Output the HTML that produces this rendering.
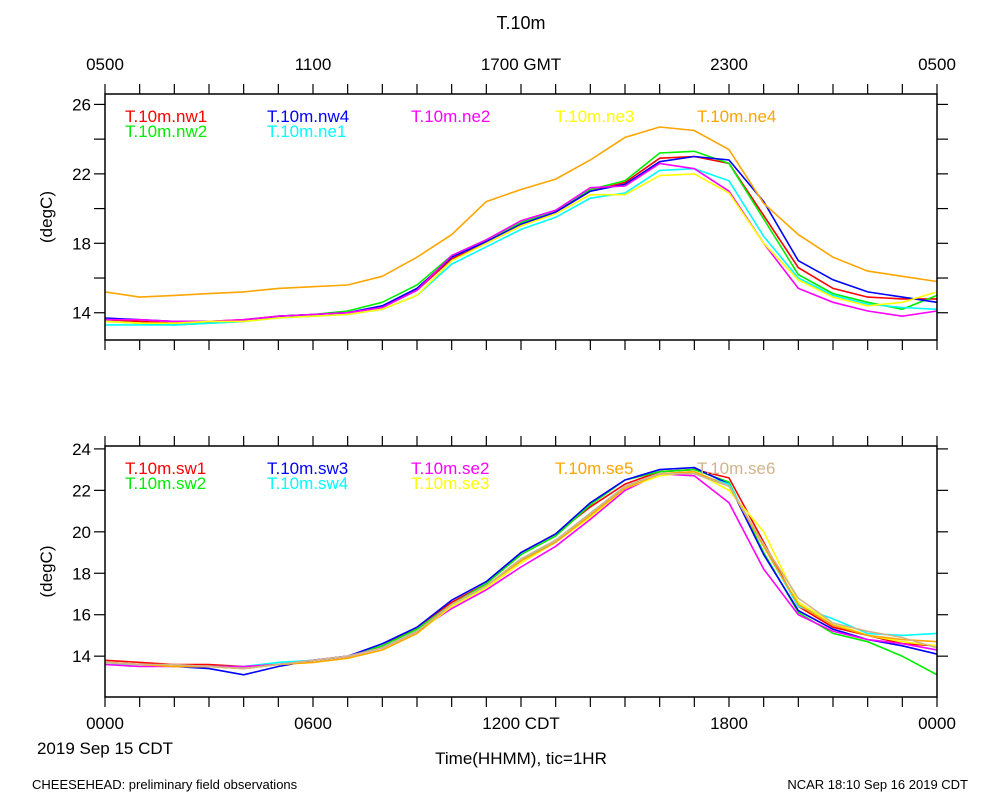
<!DOCTYPE html>
<html><head><meta charset="utf-8"><style>
body{margin:0;background:#fff;}
svg{display:block;font-family:"Liberation Sans",sans-serif;}
</style></head><body>
<svg id="c" width="1000" height="800" xmlns="http://www.w3.org/2000/svg"></svg>
<script>
const hours=[0,1,2,3,4,5,6,7,8,9,10,11,12,13,14,15,16,17,18,19,20,21,22,23,24];
const topNames=["T.10m.nw1","T.10m.nw2","T.10m.nw4","T.10m.ne1","T.10m.ne2","T.10m.ne3","T.10m.ne4"];
const topColors=["#ff0000","#00ee00","#0000ff","#00ffff","#ff00ff","#ffff00","#ffa500"];
const nw1=[13.6,13.5,13.4,13.5,13.6,13.8,13.9,14.0,14.3,15.3,17.1,18.0,19.0,19.8,21.0,21.5,22.9,23.0,22.6,19.6,16.6,15.4,14.9,14.8,14.8];
const nw2=[13.5,13.4,13.3,13.4,13.5,13.8,13.9,14.1,14.6,15.6,17.3,18.2,19.2,19.9,21.1,21.6,23.2,23.3,22.6,19.4,16.2,15.1,14.6,14.2,15.0];
const nw4=[13.7,13.6,13.5,13.5,13.5,13.8,13.9,14.0,14.4,15.4,17.2,18.1,19.1,19.8,21.0,21.4,22.7,23.0,22.8,20.4,17.0,15.9,15.2,14.9,14.6];
const ne1=[13.3,13.3,13.3,13.4,13.5,13.7,13.8,13.9,14.2,15.0,16.8,17.8,18.8,19.5,20.6,20.9,22.2,22.3,21.6,18.4,16.0,15.0,14.5,14.3,14.2];
const ne2=[13.6,13.6,13.5,13.5,13.6,13.8,13.9,14.0,14.3,15.3,17.3,18.2,19.3,19.9,21.2,21.3,22.6,22.3,21.0,18.0,15.4,14.6,14.1,13.8,14.1];
const ne3=[13.5,13.4,13.4,13.5,13.5,13.7,13.8,13.9,14.2,15.0,17.0,18.0,19.0,19.7,20.8,20.8,21.9,22.0,20.9,18.0,15.9,14.9,14.4,14.6,15.2];
const ne4=[15.2,14.9,15.0,15.1,15.2,15.4,15.5,15.6,16.1,17.2,18.5,20.4,21.1,21.7,22.8,24.1,24.7,24.5,23.4,20.3,18.5,17.2,16.4,16.1,15.8];
const topSeries=[nw1,nw2,nw4,ne1,ne2,ne3,ne4];
const botNames=["T.10m.sw1","T.10m.sw2","T.10m.sw3","T.10m.sw4","T.10m.se2","T.10m.se3","T.10m.se5","T.10m.se6"];
const botColors=["#ff0000","#00ee00","#0000ff","#00ffff","#ff00ff","#ffff00","#ffa500","#d2b48c"];
const sw1=[13.8,13.7,13.6,13.6,13.5,13.6,13.8,14.0,14.5,15.4,16.6,17.5,19.0,19.9,21.2,22.3,22.9,23.0,22.6,19.5,16.4,15.4,15.0,14.6,14.5];
const sw2=[13.7,13.6,13.5,13.5,13.4,13.6,13.8,14.0,14.5,15.3,16.5,17.5,18.9,19.8,21.3,22.5,22.9,23.0,22.4,19.0,16.1,15.1,14.7,14.0,13.1];
const sw3=[13.7,13.6,13.5,13.4,13.1,13.5,13.8,14.0,14.6,15.4,16.7,17.6,19.0,19.9,21.4,22.5,23.0,23.1,22.3,18.9,16.2,15.3,14.8,14.5,14.1];
const sw4=[13.6,13.6,13.5,13.5,13.5,13.7,13.8,14.0,14.4,15.2,16.4,17.4,18.6,19.6,20.9,22.2,22.8,22.8,22.3,19.3,16.4,15.8,15.1,15.0,15.1];
const se2=[13.6,13.5,13.5,13.5,13.5,13.6,13.8,14.0,14.4,15.2,16.3,17.2,18.3,19.3,20.6,22.0,22.8,22.7,21.4,18.2,16.0,15.2,14.8,14.6,14.3];
const se3=[13.7,13.6,13.5,13.5,13.4,13.6,13.7,13.9,14.3,15.1,16.4,17.3,18.5,19.5,20.7,22.1,22.7,22.9,22.0,20.0,16.6,15.6,15.0,14.7,14.5];
const se5=[13.7,13.6,13.5,13.5,13.4,13.6,13.7,13.9,14.3,15.1,16.5,17.4,18.6,19.5,20.8,22.1,22.8,22.9,22.2,19.3,16.5,15.5,15.0,14.8,14.7];
const se6=[13.7,13.6,13.6,13.5,13.4,13.6,13.8,14.0,14.4,15.2,16.5,17.4,18.7,19.6,20.9,22.2,22.8,22.8,22.2,19.4,16.8,15.6,15.2,14.9,14.4];
const botSeries=[sw1,sw2,sw3,sw4,se2,se3,se5,se6];
const topTicks=[14,18,22,26];
const botTicks=[14,16,18,20,22,24];
const topTimeLabels=["0500","1100","1700 GMT","2300","0500"];
const botTimeLabels=["0000","0600","1200 CDT","1800","0000"];
// legend slot (column,row) per series
const topLegendCol=[0,0,1,1,2,3,4];
const topLegendRow=[0,1,0,1,0,0,0];
const botLegendCol=[0,0,1,1,2,2,3,4];
const botLegendRow=[0,1,0,1,0,1,0,0];

const NS="http://www.w3.org/2000/svg";
const svg=document.getElementById('c');
function el(tag,attrs,parent,text){const e=document.createElementNS(NS,tag);for(const k in attrs)e.setAttribute(k,attrs[k]);if(text!==undefined)e.textContent=text;(parent||svg).appendChild(e);return e;}
const X0=105,X1=937;
const xs=h=>X0+(X1-X0)*h/24;
function panel(name,y0,y1,vmin,vmax,ticks,series,colors,names,lcol,lrow,topLbl,botLbl){
  const g=el('g',{},svg);
  
  
  const ys=v=>y1-(v-vmin)/(vmax-vmin)*(y1-y0);
  const defsId='clip-'+name;
  const cp=el('clipPath',{id:defsId},g);el('rect',{x:X0,y:y0,width:X1-X0,height:y1-y0},cp);
  series.forEach((s,i)=>{
    const d=s.map((v,j)=>(j?'L':'M')+xs(hours[j]).toFixed(1)+' '+ys(v).toFixed(1)).join(' ');
    const p=el('path',{d:d,fill:'none',stroke:colors[i],'stroke-width':1.6,'clip-path':'url(#'+defsId+')'},g);
    
    
  });
  el('rect',{x:X0,y:y0,width:X1-X0,height:y1-y0,fill:'none',stroke:'#000','stroke-width':1.5},g);
  for(let h=0;h<=24;h++){const x=xs(h);
    el('line',{x1:x,x2:x,y1:y1,y2:y1+10,stroke:'#000','stroke-width':1.2},g);
    el('line',{x1:x,x2:x,y1:y0,y2:y0-10,stroke:'#000','stroke-width':1.2},g);}
  for(let v=Math.ceil(vmin/2)*2;v<=vmax;v+=2){const y=ys(v);
    el('line',{x1:X0-11,x2:X0,y1:y,y2:y,stroke:'#000','stroke-width':1.2},g);
    el('line',{x1:X1,x2:X1+11,y1:y,y2:y,stroke:'#000','stroke-width':1.2},g);}
  ticks.forEach(v=>{const t=el('text',{x:X0-14,y:ys(v)+6,'text-anchor':'end','font-size':17},g,String(v));
    });
  const yl=el('text',{x:52,y:(y0+y1)/2,'text-anchor':'middle','font-size':17,transform:'rotate(-90 52 '+((y0+y1)/2)+')'},g,'(degC)');
  
  const lx=[125,267,411,555,697];
  names.forEach((n,i)=>{
    const t=el('text',{x:lx[lcol[i]],y:y0+28+lrow[i]*15,'font-size':17,fill:colors[i]},g,n);
    });
  [[topLbl,y0-24],[botLbl,y1+32]].forEach(([lbls,yy])=>{ if(!lbls)return;
    lbls.forEach((l,i)=>{const t=el('text',{x:xs(i*6),y:yy,'text-anchor':'middle','font-size':17},g,l);
      });});
}
panel('top-panel',94,340,12.43,26.6,topTicks,topSeries,topColors,topNames,topLegendCol,topLegendRow,topTimeLabels,null);
panel('bottom-panel',446,697,12.03,24.14,botTicks,botSeries,botColors,botNames,botLegendCol,botLegendRow,null,botTimeLabels);
function txt(name,attrs,s){const t=el('text',attrs,svg,s);}
txt('chart-title',{x:521,y:29,'text-anchor':'middle','font-size':18},'T.10m');
txt('date-label',{x:105,y:754,'text-anchor':'middle','font-size':17},'2019 Sep 15 CDT');
txt('x-axis-title',{x:521,y:764,'text-anchor':'middle','font-size':17},'Time(HHMM), tic=1HR');
txt('footer-left',{x:32,y:789,'font-size':13},'CHEESEHEAD: preliminary field observations');
txt('footer-right',{x:968,y:789,'text-anchor':'end','font-size':13},'NCAR 18:10 Sep 16 2019 CDT');
</script>
</body></html>
